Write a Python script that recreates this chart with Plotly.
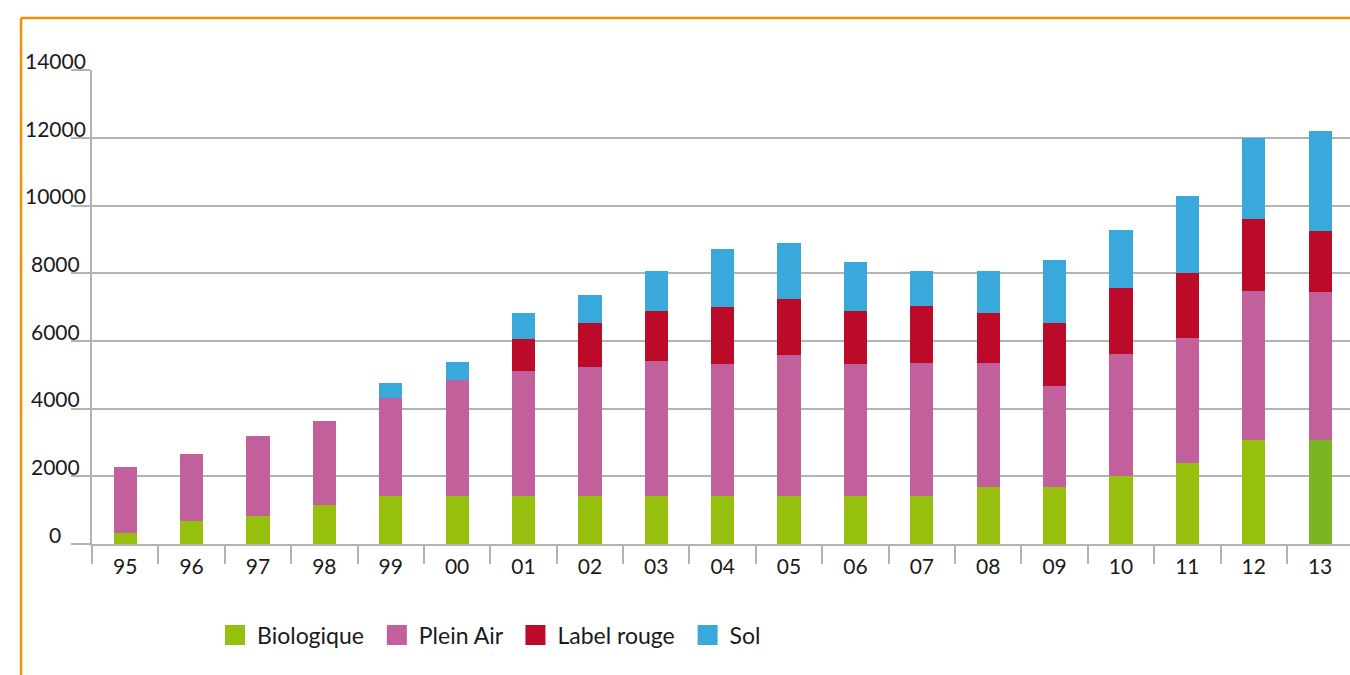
import plotly.graph_objects as go

years = ["95", "96", "97", "98", "99", "00", "01", "02", "03", "04",
         "05", "06", "07", "08", "09", "10", "11", "12", "13"]
biologique = [336, 671, 824, 1150, 1410, 1410, 1410, 1410, 1410, 1410,
              1410, 1410, 1410, 1675, 1675, 2000, 2384, 3064, 3064]
plein_air = [1933, 1984, 2360, 2482, 2914, 3450, 3717, 3835, 4012, 3923,
             4189, 3923, 3930, 3665, 2985, 3606, 3695, 4404, 4374]
label_rouge = [0, 0, 0, 0, 0, 0, 944, 1299, 1456, 1683,
               1653, 1565, 1684, 1478, 1862, 1951, 1921, 2128, 1803]
sol = [0, 0, 0, 0, 427, 507, 768, 826, 1201, 1712,
       1653, 1446, 1035, 1241, 1862, 1714, 2276, 2404, 2956]
y_ticks = [0, 2000, 4000, 6000, 8000, 10000, 12000, 14000]

series = [
    ("Biologique", biologique, "#97bf0d"),
    ("Plein Air", plein_air, "#c2609c"),
    ("Label rouge", label_rouge, "#bc0b28"),
    ("Sol", sol, "#39a8db"),
]

FONT = "Lato"
fig = go.Figure()
for name, vals, col in series:
    colors = [col] * len(vals)
    if name == "Biologique":
        colors[-1] = "#7bb524"
    fig.add_trace(go.Bar(x=years, y=vals, name=name, width=0.35,
                         marker=dict(color=colors, line=dict(width=0)),
                         showlegend=False))
for name, vals, col in series:
    fig.add_trace(go.Scatter(x=[None], y=[None], mode="markers", name=name + "\u00a0",
                             marker=dict(symbol="square", size=16, color=col,
                                         line=dict(color=col, width=4))))

annotations = []
for t in y_ticks:
    annotations.append(dict(x=-0.0294, y=t, xref="paper", yref="y", text=str(t),
                            showarrow=False, xanchor="center", yanchor="middle",
                            yshift=10, font=dict(family=FONT, size=21, color="#1a1a1a")))

shapes = [
    dict(type="line", xref="paper", yref="paper", x0=-0.0564, x1=1.02, y0=1.1097, y1=1.1097,
         line=dict(color="#f39200", width=2.5)),
    dict(type="line", xref="paper", yref="paper", x0=-0.0564, x1=-0.0564, y0=1.1097, y1=-0.3,
         line=dict(color="#f39200", width=2.5)),
]

fig.update_layout(
    barmode="stack",
    width=1350, height=675,
    margin=dict(l=92, r=0, t=70, b=131),
    paper_bgcolor="white", plot_bgcolor="white",
    font=dict(family=FONT, size=21, color="#1a1a1a"),
    showlegend=True,
    legend=dict(orientation="h", x=0.0962, y=-0.192, xanchor="left", yanchor="middle",
                traceorder="normal",
                font=dict(family=FONT, size=23, color="#1a1a1a"), itemwidth=34,
                bgcolor="rgba(0,0,0,0)"),
    annotations=annotations,
    shapes=shapes,
    xaxis=dict(type="category", range=[-0.5, 18.45], showgrid=False, showline=True,
               linecolor="#b3b3b3", linewidth=1.5, ticks="outside", tickson="boundaries",
               ticklen=18, tickwidth=1.5, tickcolor="#b3b3b3",
               ticklabelstandoff=3,
               tickfont=dict(family=FONT, size=21, color="#1a1a1a"), fixedrange=True),
    yaxis=dict(range=[0, 14010], tickvals=y_ticks, showticklabels=False, showgrid=True,
               gridcolor="#b3b3b3", gridwidth=1.5, showline=True, linecolor="#b3b3b3",
               linewidth=1.5, ticks="outside", ticklen=19, tickwidth=1.5,
               tickcolor="#b3b3b3", zeroline=False, fixedrange=True),
)

fig.write_html("out.html", config={"displayModeBar": False},
               post_script="document.body.style.margin='0';document.body.style.overflow='hidden';")
